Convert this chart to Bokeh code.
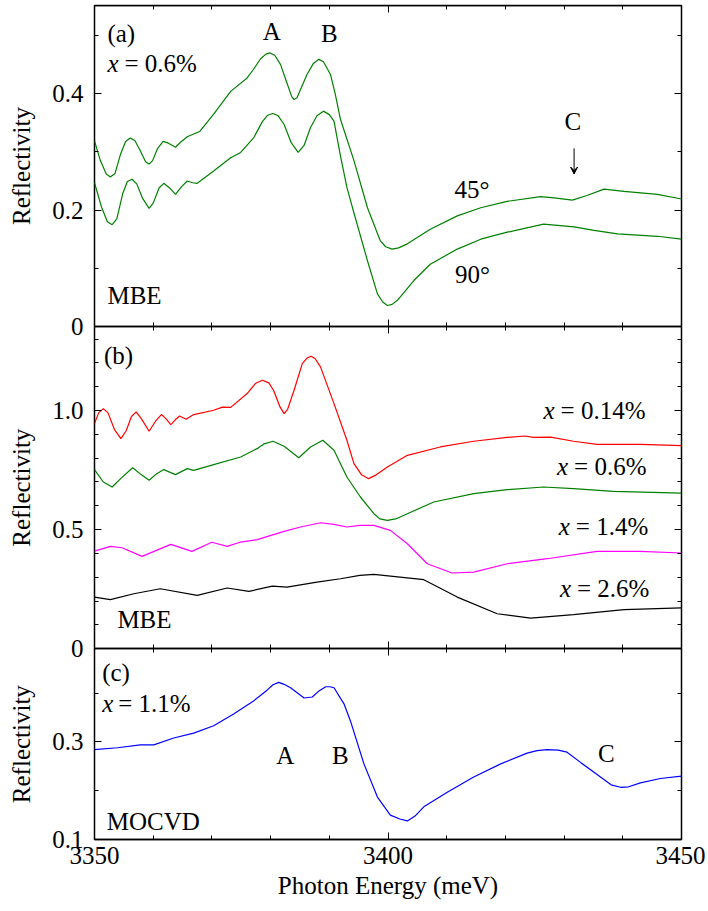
from bokeh.plotting import figure
from bokeh.layouts import row
from bokeh.models import Range1d, LinearAxis, FixedTicker, Label, Arrow, VeeHead
from bokeh.embed import file_html
from bokeh.resources import INLINE

FONT = "Liberation Serif"
FS = "25px"

# ---------------- data ----------------
# panel (a): x = 0.6 %, MBE, two angles
e_a45 = [3350, 3351.0, 3352.0, 3352.7, 3353.5, 3354.4, 3355.3, 3356.1, 3356.9, 3357.8, 3358.7, 3359.3,
         3359.9, 3360.7, 3361.7, 3362.6, 3363.8, 3364.7, 3365.8, 3367.9, 3370.3, 3373.2, 3376.0, 3377.1,
         3378.3, 3379.2, 3379.9, 3380.7, 3381.7, 3382.8, 3383.6, 3384.0, 3384.5, 3385.3, 3386.2, 3387.3,
         3388.2, 3389.0, 3390.2, 3391.0, 3391.9, 3394.2, 3396.5, 3398.7, 3399.6, 3400.7, 3401.8, 3403.3,
         3407.2, 3411.8, 3415.8, 3420.3, 3426.0, 3428.3, 3431.4, 3433.9, 3436.8, 3440.2, 3445.9, 3450]
r_a45 = [0.319, 0.285, 0.262, 0.257, 0.263, 0.295, 0.318, 0.324, 0.319, 0.302, 0.283, 0.279,
         0.285, 0.305, 0.318, 0.315, 0.308, 0.317, 0.326, 0.335, 0.365, 0.404, 0.427, 0.442,
         0.460, 0.468, 0.470, 0.466, 0.450, 0.418, 0.395, 0.390, 0.393, 0.412, 0.433, 0.452,
         0.459, 0.455, 0.433, 0.400, 0.356, 0.285, 0.204, 0.147, 0.137, 0.133, 0.135, 0.142,
         0.167, 0.190, 0.204, 0.215, 0.223, 0.221, 0.217, 0.225, 0.236, 0.232, 0.227, 0.219]
e_a90 = [3350, 3351.2, 3352.2, 3353.0, 3353.8, 3354.8, 3355.6, 3356.4, 3357.2, 3358.2, 3359.3, 3360.0,
         3361.0, 3361.8, 3362.8, 3363.8, 3364.8, 3365.8, 3366.7, 3367.5, 3370.3, 3373.2, 3374.9, 3377.1,
         3378.6, 3379.5, 3380.4, 3381.3, 3382.3, 3383.5, 3384.7, 3385.7, 3386.8, 3387.9, 3389.0, 3390.0,
         3390.8, 3391.9, 3393.0, 3394.2, 3396.5, 3398.2, 3399.1, 3399.9, 3400.7, 3401.6, 3404.4, 3407.2,
         3411.8, 3415.8, 3420.3, 3426.5, 3431.7, 3435.1, 3439.1, 3445.9, 3450]
r_a90 = [0.247, 0.205, 0.180, 0.175, 0.185, 0.228, 0.249, 0.253, 0.245, 0.220, 0.203, 0.212,
         0.238, 0.246, 0.238, 0.227, 0.240, 0.250, 0.247, 0.246, 0.267, 0.290, 0.299, 0.324,
         0.352, 0.363, 0.366, 0.362, 0.347, 0.316, 0.299, 0.311, 0.342, 0.362, 0.370, 0.364,
         0.353, 0.293, 0.239, 0.195, 0.113, 0.056, 0.042, 0.036, 0.038, 0.045, 0.079, 0.107,
         0.133, 0.150, 0.162, 0.176, 0.171, 0.165, 0.159, 0.155, 0.150]

# panel (b): MBE, different x
e_b014 = [3350, 3350.7, 3351.5, 3352.3, 3353.4, 3354.5, 3355.4, 3356.3, 3357.1, 3358.0, 3359.3, 3360.4,
          3361.4, 3362.2, 3363.0, 3363.8, 3364.5, 3365.6, 3366.9, 3370.3, 3371.8, 3373.2, 3376.0, 3377.4,
          3378.6, 3379.7, 3380.5, 3381.6, 3382.3, 3382.9, 3384.0, 3385.4, 3386.2, 3386.9, 3387.6, 3388.5,
          3390.8, 3393.0, 3394.2, 3395.5, 3396.7, 3398.0, 3399.9, 3403.3, 3408.9, 3414.6, 3420.3, 3423.4,
          3424.8, 3427.7, 3431.6, 3435.6, 3443.0, 3450]
r_b014 = [0.945, 0.990, 1.008, 0.990, 0.920, 0.882, 0.915, 0.975, 0.994, 0.965, 0.913, 0.955,
          0.983, 0.965, 0.941, 0.962, 0.977, 0.963, 0.983, 1.001, 1.014, 1.013, 1.071, 1.113,
          1.127, 1.116, 1.085, 1.015, 0.987, 1.005, 1.085, 1.197, 1.220, 1.228, 1.217, 1.183,
          1.029, 0.875, 0.777, 0.730, 0.714, 0.730, 0.763, 0.812, 0.847, 0.871, 0.887, 0.893,
          0.887, 0.888, 0.871, 0.858, 0.858, 0.853]
e_b06 = [3350, 3351.5, 3353.0, 3354.5, 3356.5, 3358.0, 3359.3, 3360.6, 3361.8, 3363.8, 3365.8, 3366.9,
         3370.3, 3374.9, 3377.7, 3378.9, 3380.4, 3382.3, 3384.8, 3386.8, 3388.9, 3390.8, 3393.0, 3395.3,
         3397.6, 3398.6, 3399.9, 3401.3, 3403.3, 3407.8, 3414.6, 3420.3, 3426.5, 3431.6, 3438.4, 3450]
r_b06 = [0.752, 0.700, 0.679, 0.715, 0.760, 0.730, 0.707, 0.735, 0.752, 0.731, 0.756, 0.749,
         0.773, 0.805, 0.840, 0.860, 0.871, 0.850, 0.802, 0.847, 0.875, 0.833, 0.721, 0.637,
         0.567, 0.545, 0.539, 0.545, 0.567, 0.616, 0.651, 0.668, 0.679, 0.672, 0.661, 0.653]
e_b14 = [3350, 3352.7, 3354.7, 3358.1, 3363.0, 3366.6, 3370.0, 3372.6, 3374.9, 3377.7, 3382.3, 3385.1,
         3388.5, 3390.8, 3393.0, 3395.2, 3397.6, 3400.4, 3403.3, 3406.7, 3410.9, 3414.6, 3420.3, 3427.1,
         3435.6, 3443.0, 3450]
r_b14 = [0.410, 0.430, 0.424, 0.388, 0.438, 0.409, 0.447, 0.430, 0.448, 0.458, 0.493, 0.511,
         0.529, 0.522, 0.511, 0.518, 0.518, 0.497, 0.441, 0.357, 0.318, 0.322, 0.357, 0.378,
         0.409, 0.409, 0.402]
e_b26 = [3350, 3352.7, 3356.7, 3361.2, 3367.5, 3372.6, 3376.3, 3380.3, 3382.8, 3387.9, 3391.9, 3395.2,
         3397.6, 3406.1, 3411.8, 3418.6, 3424.3, 3431.6, 3440.2, 3450]
r_b26 = [0.217, 0.206, 0.231, 0.252, 0.224, 0.255, 0.241, 0.263, 0.259, 0.280, 0.294, 0.308,
         0.312, 0.290, 0.217, 0.147, 0.129, 0.143, 0.164, 0.172]

# panel (c): MOCVD, x = 1.1 %
e_c = [3350, 3353.9, 3357.8, 3360.1, 3363.5, 3366.9, 3370.3, 3373.7, 3377.1, 3379.4, 3380.4, 3381.4,
       3382.3, 3383.4, 3385.7, 3387.1, 3388.3, 3389.4, 3390.1, 3390.8, 3392.5, 3393.6, 3395.9, 3398.2,
       3400.4, 3402.0, 3403.3, 3404.6, 3406.1, 3410.1, 3414.6, 3419.2, 3423.7, 3425.4, 3427.1, 3429.0,
       3430.5, 3432.8, 3436.2, 3438.0, 3439.6, 3441.0, 3443.0, 3446.4, 3450]
r_c = [0.284, 0.288, 0.294, 0.294, 0.308, 0.318, 0.333, 0.357, 0.384, 0.406, 0.417, 0.422,
       0.418, 0.411, 0.390, 0.392, 0.405, 0.413, 0.413, 0.411, 0.378, 0.343, 0.255, 0.187,
       0.150, 0.142, 0.138, 0.148, 0.167, 0.197, 0.228, 0.255, 0.277, 0.282, 0.284, 0.283,
       0.279, 0.258, 0.228, 0.212, 0.207, 0.208, 0.216, 0.225, 0.230]

# ticks
x_major = [3350, 3400, 3450]
x_minor = [3360, 3370, 3380, 3390, 3410, 3420, 3430, 3440]
ya_major, ya_minor, ya_labels = [0, 0.2, 0.4], [0.1, 0.3, 0.5], ["0", "0.2", "0.4"]
yb_major, yb_minor, yb_labels = [0, 0.5, 1.0], [0.1, 0.2, 0.3, 0.4, 0.6, 0.7, 0.8, 0.9, 1.1, 1.2, 1.3], ["0", "0.5", "1.0"]
yc_major, yc_minor, yc_labels = [0.1, 0.3], [0.2, 0.4], ["0.1", "0.3"]

# ---------------- figure ----------------
# one frame holding three stacked panels, each with its own y range
A_TOP, B_TOP, C_TOP = 0.5515, 1.3525, 0.4908
main_y = Range1d(0.1, 1.809)
ranges = {"a": Range1d(-0.8814, 0.5515), "b": Range1d(-0.8003, 2.6996)}
FH = 834
p = figure(frame_width=587, frame_height=FH, min_border_left=54, min_border_right=24,
           min_border_top=5, min_border_bottom=70,
           x_range=Range1d(3350, 3450), y_range=main_y,
           x_axis_location=None, y_axis_location=None,
           output_backend="svg", toolbar_location=None)
p.extra_y_ranges = ranges
p.grid.visible = False
p.outline_line_color = "black"
p.outline_line_width = 1.5
p.background_fill_color = "white"
p.border_fill_color = "white"

def rng(name):
    return main_y if name == "default" else ranges[name]

def to_main(v, name):
    # position of a panel value on the frame's main y scale
    r = rng(name)
    f = (v - r.start) / (r.end - r.start)
    return main_y.start + f * (main_y.end - main_y.start)

tick_style = dict(major_tick_in=7, major_tick_out=0, minor_tick_in=4, minor_tick_out=0,
                  major_tick_line_color="black", minor_tick_line_color="black",
                  major_tick_line_width=1, minor_tick_line_width=1)

def xticker():
    return FixedTicker(ticks=x_major, minor_ticks=x_minor)

# bottom labelled x axis (panel c)
xb = LinearAxis(ticker=xticker(), axis_label="Photon Energy (meV)",
                major_label_text_font=FONT, major_label_text_font_size=FS,
                major_label_text_color="black", axis_label_text_color="black",
                axis_label_text_font=FONT, axis_label_text_font_size=FS,
                axis_label_text_font_style="normal", major_label_standoff=7,
                axis_label_standoff=5, axis_line_width=1.5, **tick_style)
p.add_layout(xb, "below")

# mirrored x ticks at every panel edge
for name, loc, side in [("a", A_TOP, "above"), ("a", 0, "below"),
                        ("b", B_TOP, "above"), ("b", 0, "below"),
                        ("default", C_TOP, "above")]:
    ax = LinearAxis(ticker=xticker(), y_range_name=name, fixed_location=loc,
                    major_label_text_color=None, axis_line_width=1.5, **tick_style)
    p.add_layout(ax, side)

# y ticks of the three panels, placed on the frame's main scale
panels = [("a", ya_major, ya_minor, ya_labels), ("b", yb_major, yb_minor, yb_labels),
          ("default", yc_major, yc_minor, yc_labels)]
maj_pos, min_pos, overrides = [], [], {}
for name, maj, mnr, labs in panels:
    for t, s in zip(maj, labs):
        pos = to_main(t, name)
        maj_pos.append(pos)
        overrides[pos] = s
    min_pos += [to_main(t, name) for t in mnr]

yl = LinearAxis(ticker=FixedTicker(ticks=maj_pos, minor_ticks=min_pos),
                major_label_overrides=overrides,
                major_label_text_font=FONT, major_label_text_font_size=FS,
                major_label_text_color="black", major_label_standoff=11,
                axis_line_color=None, **tick_style)
p.add_layout(yl, "left")
yr = LinearAxis(ticker=FixedTicker(ticks=maj_pos, minor_ticks=min_pos), fixed_location=3450,
                major_label_text_color=None, axis_line_color=None, **tick_style)
p.add_layout(yr, "right")

GREEN, RED, MAG, BLUE = "#008000", "#ff0000", "#ff00ff", "#0000ff"
LW = 1.2
p.line(e_a45, r_a45, y_range_name="a", line_color=GREEN, line_width=LW)
p.line(e_a90, r_a90, y_range_name="a", line_color=GREEN, line_width=LW)
p.line(e_b014, r_b014, y_range_name="b", line_color=RED, line_width=LW)
p.line(e_b06, r_b06, y_range_name="b", line_color=GREEN, line_width=LW)
p.line(e_b14, r_b14, y_range_name="b", line_color=MAG, line_width=LW)
p.line(e_b26, r_b26, y_range_name="b", line_color="black", line_width=LW)
p.line(e_c, r_c, line_color=BLUE, line_width=LW)

def lab(fig, x, y, text, rng_name="default", align="left", italic=False, xo=0, angle=0):
    fig.add_layout(Label(x=x, y=y, text=text, y_range_name=rng_name, text_align=align,
                         text_baseline="middle", text_font=FONT, text_font_size=FS,
                         text_font_style="italic" if italic else "normal",
                         text_color="black", x_offset=xo, angle=angle, angle_units="deg"))

# strip to the left carrying the y-axis titles, sharing the panels' y ranges
lf = figure(frame_width=40, frame_height=FH, min_border_left=0, min_border_right=0,
            min_border_top=5, min_border_bottom=0, x_range=Range1d(0, 40), y_range=main_y,
            x_axis_location=None, y_axis_location=None,
            output_backend="svg", toolbar_location=None)
lf.extra_y_ranges = ranges
lf.grid.visible = False
lf.outline_line_color = None
for name, lo, hi in [("a", 0, A_TOP), ("b", 0, B_TOP), ("default", 0.1, C_TOP)]:
    lab(lf, 21, (lo + hi) / 2, "Reflectivity", name, align="center", angle=90)

# panel (a)
lab(p, 3352.2, 0.504, "(a)", "a")
lab(p, 3352.2, 0.451, "x", "a", italic=True)
lab(p, 3352.2, 0.451, "= 0.6%", "a", xo=17)
lab(p, 3380.2, 0.507, "A", "a", align="center")
lab(p, 3390.0, 0.504, "B", "a", align="center")
lab(p, 3352.2, 0.053, "MBE", "a")
lab(p, 3431.5, 0.353, "C", "a", align="center")
lab(p, 3414.3, 0.236, "45°", "a", align="center")
lab(p, 3414.4, 0.089, "90°", "a", align="center")
p.add_layout(Arrow(x_start=3431.7, y_start=0.306, x_end=3431.7, y_end=0.262, y_range_name="a",
                   line_color="black", line_width=1,
                   end=VeeHead(size=7, line_color="black", line_width=1)))

# panel (b)
lab(p, 3351.6, 1.232, "(b)", "b")
lab(p, 3353.9, 0.122, "MBE", "b")
for xx, yy, s in [(3426.5, 1.001, "= 0.14%"), (3428.8, 0.763, "= 0.6%"),
                  (3429.1, 0.515, "= 1.4%"), (3429.3, 0.252, "= 2.6%")]:
    lab(p, xx, yy, "x", "b", italic=True)
    lab(p, xx, yy, s, "b", xo=17)

# panel (c)
lab(p, 3351.3, 0.442, "(c)")
lab(p, 3351.3, 0.379, "x", italic=True)
lab(p, 3351.3, 0.379, "= 1.1%", xo=16)
lab(p, 3382.5, 0.272, "A", align="center")
lab(p, 3391.9, 0.272, "B", align="center")
lab(p, 3437.2, 0.276, "C", align="center")
lab(p, 3352.1, 0.136, "MOCVD")

layout = row(lf, p)
open("out.html", "w").write(file_html(layout, INLINE))
